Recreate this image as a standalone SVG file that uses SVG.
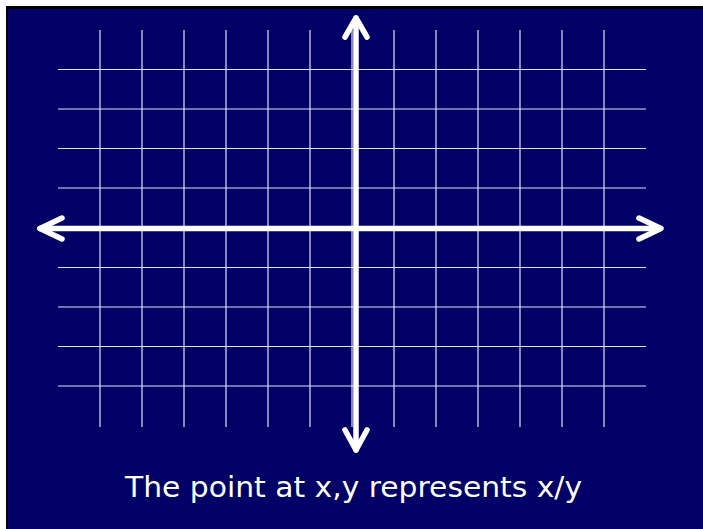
<svg xmlns="http://www.w3.org/2000/svg" width="703" height="529" viewBox="0 0 703 529">
  <style>
    .grid line { stroke: #e2e2f4; stroke-width: 1.2; }
    .axis { stroke: #ffffff; stroke-width: 5.5; fill: none; stroke-linecap: round; stroke-linejoin: round; }
    .caption { font-family: "DejaVu Sans", "Liberation Sans", sans-serif; font-size: 28px; fill: #ffffff; }
  </style>
  <rect x="0" y="0" width="703" height="529" fill="#ffffff"/>
  <rect x="6" y="6" width="697" height="523" fill="#000000"/>
  <rect x="8" y="9" width="695" height="520" fill="#000066"/>
  <g id="grid" class="grid">
    <line x1="100" y1="30" x2="100" y2="427"/>
    <line x1="142" y1="30" x2="142" y2="427"/>
    <line x1="184" y1="30" x2="184" y2="427"/>
    <line x1="226" y1="30" x2="226" y2="427"/>
    <line x1="268" y1="30" x2="268" y2="427"/>
    <line x1="310" y1="30" x2="310" y2="427"/>
    <line x1="352" y1="30" x2="352" y2="427"/>
    <line x1="394" y1="30" x2="394" y2="427"/>
    <line x1="436" y1="30" x2="436" y2="427"/>
    <line x1="478" y1="30" x2="478" y2="427"/>
    <line x1="520" y1="30" x2="520" y2="427"/>
    <line x1="562" y1="30" x2="562" y2="427"/>
    <line x1="604" y1="30" x2="604" y2="427"/>
    <line x1="58" y1="69.5" x2="646" y2="69.5"/>
    <line x1="58" y1="109" x2="646" y2="109"/>
    <line x1="58" y1="148.5" x2="646" y2="148.5"/>
    <line x1="58" y1="188" x2="646" y2="188"/>
    <line x1="58" y1="228" x2="646" y2="228"/>
    <line x1="58" y1="267.5" x2="646" y2="267.5"/>
    <line x1="58" y1="307" x2="646" y2="307"/>
    <line x1="58" y1="346.5" x2="646" y2="346.5"/>
    <line x1="58" y1="386" x2="646" y2="386"/>
  </g>
  <g id="connectors">
    <g id="x-axis">
      <line class="axis" x1="40" y1="228.5" x2="660" y2="228.5"/>
      <polyline class="axis" points="62,218 40,228.5 62,239"/>
      <polyline class="axis" points="639,218 661,228.5 639,239"/>
    </g>
    <g id="y-axis">
      <line class="axis" x1="356" y1="18" x2="356" y2="450"/>
      <polyline class="axis" points="345,37 356,18 367,37"/>
      <polyline class="axis" points="345,430 356,450 367,430"/>
    </g>
  </g>
  <g id="caption">
    <text class="caption" x="125" y="497" textLength="457" lengthAdjust="spacingAndGlyphs">The point at x,y represents x/y</text>
  </g>
</svg>
